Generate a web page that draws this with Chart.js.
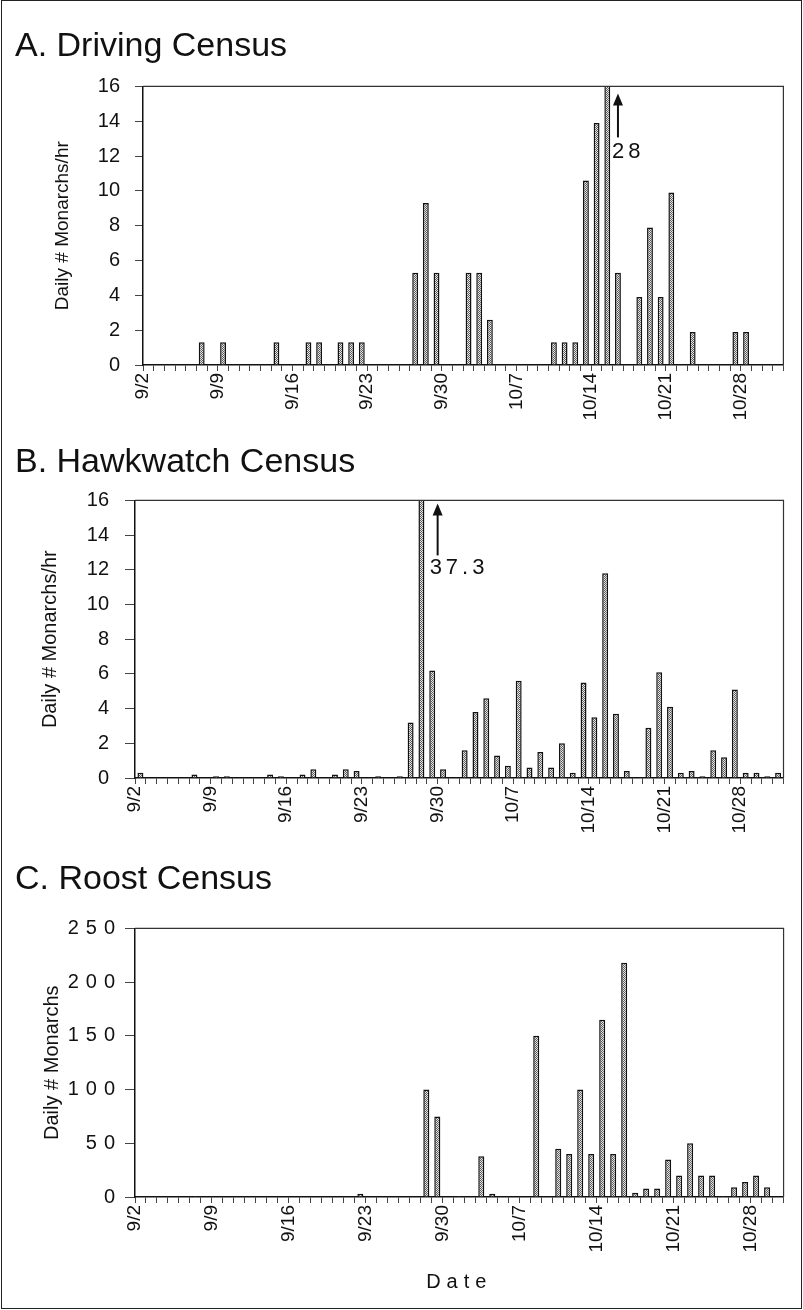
<!DOCTYPE html>
<html>
<head>
<meta charset="utf-8">
<script src="https://cdn.jsdelivr.net/npm/chart.js@4/dist/chart.umd.min.js"></script>
<style>
  html, body { margin: 0; padding: 0; background: #fff; }
  #page { position: relative; width: 803px; height: 1310px; overflow: hidden; }
  #page canvas { position: absolute; left: 0; }
  #frame { position: absolute; left: 1px; top: 0; width: 801px; height: 1309px; box-sizing: border-box; border: 1px solid #222; pointer-events: none; }
</style>
</head>
<body>
<div id="page">
  <canvas id="chartA" width="803" height="440" style="top:0"></canvas>
  <canvas id="chartB" width="803" height="420" style="top:440px"></canvas>
  <canvas id="chartC" width="803" height="450" style="top:860px"></canvas>
  <div id="frame"></div>
</div>
<script>
const FONT = "'Liberation Sans', Arial, sans-serif";

// one category per day, 9/2 .. 10/31
const dates = [
  '9/2', '9/3', '9/4', '9/5', '9/6', '9/7', '9/8', '9/9', '9/10', '9/11',
  '9/12', '9/13', '9/14', '9/15', '9/16', '9/17', '9/18', '9/19', '9/20', '9/21',
  '9/22', '9/23', '9/24', '9/25', '9/26', '9/27', '9/28', '9/29', '9/30', '10/1',
  '10/2', '10/3', '10/4', '10/5', '10/6', '10/7', '10/8', '10/9', '10/10', '10/11',
  '10/12', '10/13', '10/14', '10/15', '10/16', '10/17', '10/18', '10/19', '10/20', '10/21',
  '10/22', '10/23', '10/24', '10/25', '10/26', '10/27', '10/28', '10/29', '10/30', '10/31'
];
// the roost panel stops at 10/30
const roostDates = dates.slice(0, 59);
const weekLabels = ['9/2', '9/9', '9/16', '9/23', '9/30', '10/7', '10/14', '10/21', '10/28'];

// A. monarchs per hour, driving census (10/15 = 28, off the scale)
const drivingValues = [
  0, 0, 0, 0, 0, 1.3, 0, 1.3, 0, 0,
  0, 0, 1.3, 0, 0, 1.3, 1.3, 0, 1.3, 1.3,
  1.3, 0, 0, 0, 0, 5.3, 9.3, 5.3, 0, 0,
  5.3, 5.3, 2.6, 0, 0, 0, 0, 0, 1.3, 1.3,
  1.3, 10.6, 13.9, 28, 5.3, 0, 3.9, 7.9, 3.9, 9.9,
  0, 1.9, 0, 0, 0, 1.9, 1.9, 0, 0, 0
];

// B. monarchs per hour, hawkwatch census (9/28 = 37.3, off the scale)
const hawkValues = [
  0.3, 0, 0, 0, 0, 0.2, 0, 0.1, 0.1, 0,
  0, 0, 0.2, 0.1, 0, 0.2, 0.5, 0, 0.2, 0.5,
  0.4, 0, 0.1, 0, 0.1, 3.2, 37.3, 6.2, 0.5, 0,
  1.6, 3.8, 4.6, 1.3, 0.7, 5.6, 0.6, 1.5, 0.6, 2.0,
  0.3, 5.5, 3.5, 11.8, 3.7, 0.4, 0, 2.9, 6.1, 4.1,
  0.3, 0.4, 0.1, 1.6, 1.2, 5.1, 0.3, 0.3, 0.1, 0.3
];

// C. daily monarchs, roost census
const roostValues = [
  0, 0, 0, 0, 0, 1, 0, 0, 0, 0,
  0, 0, 0, 0, 0, 0, 0, 0, 0, 0,
  3, 0, 0, 0, 0, 0, 100, 75, 0, 1,
  0, 38, 3, 0, 0, 0, 150, 0, 45, 40,
  100, 40, 165, 40, 218, 4, 8, 8, 35, 20,
  50, 20, 20, 1, 9, 14, 20, 9, 0
];

function stipple(canvas) {
  const c = document.createElement('canvas');
  c.width = 2;
  c.height = 2;
  const g = c.getContext('2d');
  g.fillStyle = '#e6e6e6';
  g.fillRect(0, 0, 2, 2);
  g.fillStyle = '#5a5a5a';
  g.fillRect(0, 0, 1, 1);
  g.fillRect(1, 1, 1, 1);
  return canvas.getContext('2d').createPattern(c, 'repeat');
}

// wrap a scale draw method so its text is letter-spaced
function spaceOut(scale, method, gap) {
  if (scale['_plain_' + method]) return;
  const orig = scale[method];
  scale['_plain_' + method] = orig;
  scale[method] = function (...args) {
    this.ctx.save();
    this.ctx.letterSpacing = gap;
    orig.apply(this, args);
    this.ctx.restore();
  };
}

// top and right edge of the plot box
const plotFrame = {
  id: 'plotFrame',
  afterDraw(chart) {
    const { ctx, chartArea: a } = chart;
    ctx.save();
    ctx.strokeStyle = '#333';
    ctx.lineWidth = 1.2;
    ctx.beginPath();
    ctx.moveTo(a.left, a.top);
    ctx.lineTo(a.right, a.top);
    ctx.lineTo(a.right, a.bottom);
    ctx.stroke();
    ctx.restore();
  }
};

// arrow + value for the bar that runs off the top
const arrowNote = {
  id: 'arrowNote',
  afterDraw(chart, args, opts) {
    if (!opts.text) return;
    const { ctx, chartArea: a } = chart;
    const x = chart.scales.x.getPixelForValue(opts.at);
    ctx.save();
    ctx.strokeStyle = '#111';
    ctx.fillStyle = '#111';
    ctx.lineWidth = 2;
    ctx.beginPath();
    ctx.moveTo(x, a.top + opts.tip + 8);
    ctx.lineTo(x, a.top + opts.tail);
    ctx.stroke();
    ctx.beginPath();
    ctx.moveTo(x, a.top + opts.tip);
    ctx.lineTo(x - 5, a.top + opts.tip + 12);
    ctx.lineTo(x + 5, a.top + opts.tip + 12);
    ctx.closePath();
    ctx.fill();
    ctx.font = '22px ' + FONT;
    ctx.letterSpacing = '4px';
    ctx.textAlign = 'left';
    ctx.textBaseline = 'middle';
    ctx.fillText(opts.text, x + opts.dx, a.top + opts.textY);
    ctx.restore();
  }
};

function makeChart(id, o) {
  const canvas = document.getElementById(id);
  return new Chart(canvas, {
    type: 'bar',
    data: {
      labels: o.labels,
      datasets: [{
        data: o.values,
        backgroundColor: stipple(canvas),
        borderColor: '#111',
        borderWidth: 1.5,
        borderSkipped: 'bottom',
        barPercentage: 0.55,
        categoryPercentage: 1
      }]
    },
    options: {
      responsive: false,
      animation: false,
      devicePixelRatio: 1,
      layout: { padding: { left: 15, right: o.padRight, top: 0, bottom: 0 } },
      plugins: {
        legend: { display: false },
        tooltip: { enabled: false },
        title: {
          display: true,
          text: o.title,
          align: 'start',
          color: '#111',
          font: { family: FONT, size: 34, weight: 'normal', lineHeight: 1.1 },
          padding: { top: o.titleTop, bottom: o.titleBottom }
        },
        arrowNote: o.note || {}
      },
      scales: {
        x: {
          grid: { offset: true, drawOnChartArea: false, tickLength: 6, color: '#444', tickWidth: 1 },
          border: { color: '#111', width: 1.5 },
          ticks: {
            autoSkip: false,
            minRotation: 90,
            maxRotation: 90,
            padding: 2,
            labelOffset: o.labelOffset,
            color: '#111',
            font: { family: FONT, size: 19 },
            callback: (v, i) => weekLabels.includes(o.labels[i]) ? o.labels[i] : ''
          },
          title: o.xTitle || { display: false },
          afterFit: (s) => {
            s.height = o.xHeight;
            if (o.xTitle) spaceOut(s, 'drawTitle', '6px');
          }
        },
        y: {
          min: 0,
          max: o.max,
          grid: { drawOnChartArea: false, tickLength: o.yTick, color: '#444' },
          border: { color: '#111', width: 1.5 },
          ticks: {
            stepSize: o.step,
            padding: o.yPad,
            color: '#111',
            font: { family: FONT, size: 20 }
          },
          title: {
            display: true,
            text: o.yTitle,
            color: '#111',
            font: { family: FONT, size: o.yTitleSize },
            padding: { top: o.yTitlePad, bottom: 0 }
          },
          afterFit: (s) => {
            s.width = o.yWidth;
            if (o.ySpacing) spaceOut(s, 'drawLabels', o.ySpacing);
          }
        }
      }
    },
    plugins: [plotFrame, arrowNote]
  });
}

makeChart('chartA', {
  title: 'A. Driving Census',
  labels: dates,
  values: drivingValues,
  max: 16, step: 2,
  yTitle: 'Daily # Monarchs/hr', yTitleSize: 19, yTitlePad: 36,
  yWidth: 128, yTick: 8, yPad: 15,
  padRight: 17, titleTop: 28, titleBottom: 21,
  xHeight: 75, labelOffset: -5.36,
  note: { at: 44, text: '28', tip: 7, tail: 51, dx: -6, textY: 66 }
});

makeChart('chartB', {
  title: 'B. Hawkwatch Census',
  labels: dates,
  values: hawkValues,
  max: 16, step: 2,
  yTitle: 'Daily # Monarchs/hr', yTitleSize: 20, yTitlePad: 23,
  yWidth: 120, yTick: 10, yPad: 16,
  padRight: 13, titleTop: 4, titleBottom: 19,
  xHeight: 82, labelOffset: -5.46,
  note: { at: 27.5, text: '37.3', tip: 3, tail: 55, dx: -8, textY: 68 }
});

makeChart('chartC', {
  title: 'C. Roost Census',
  labels: roostDates,
  values: roostValues,
  max: 250, step: 50,
  yTitle: 'Daily # Monarchs', yTitleSize: 20, yTitlePad: 25,
  yWidth: 120, yTick: 10, yPad: 3, ySpacing: '7px',
  padRight: 14, titleTop: 1, titleBottom: 30,
  xHeight: 113, labelOffset: -5.54,
  xTitle: {
    display: true, text: 'Date', color: '#111',
    font: { family: FONT, size: 20 },
    padding: { top: 0, bottom: 16 }
  }
});
</script>
</body>
</html>
